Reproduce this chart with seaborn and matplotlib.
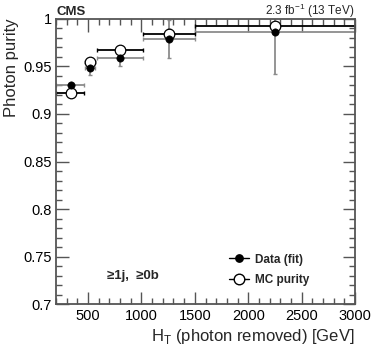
import numpy as np
import pandas as pd
import seaborn as sns
import matplotlib
matplotlib.use("Agg")
import matplotlib.pyplot as plt
from matplotlib.lines import Line2D
from matplotlib.ticker import MultipleLocator

# HT bins (GeV): point position and bin edges
ht_center = [338, 519, 798, 1257, 2250]
ht_low = [200, 475, 580, 1010, 1500]
ht_high = [460, 565, 1010, 1500, 3000]

# purity values
data_purity = [0.930, 0.9485, 0.959, 0.979, 0.986]
data_err = [0.002, 0.008, 0.009, 0.020, 0.044]
mc_purity = [0.922, 0.954, 0.967, 0.984, 0.9925]
mc_err = [0.002, 0.003, 0.003, 0.005, 0.004]

df = pd.DataFrame({"HT": ht_center, "data": data_purity, "mc": mc_purity})
xerr = [np.subtract(ht_center, ht_low), np.subtract(ht_high, ht_center)]

sns.set_style("ticks")
plt.rcParams['font.family'] = ['Liberation Sans', 'DejaVu Sans']
plt.rcParams['mathtext.fontset'] = 'custom'
plt.rcParams['mathtext.rm'] = 'Liberation Sans'

fig = plt.figure(figsize=(3.74, 3.59), dpi=100)
ax = fig.add_axes([0.150, 0.152, 0.799, 0.796])

# error bars (no markers)
ax.errorbar(df["HT"], df["data"], xerr=xerr, yerr=data_err, fmt="none",
            ecolor="#8c8c8c", elinewidth=1.3, capsize=1.5, capthick=1.0, zorder=2)
ax.errorbar(df["HT"], df["mc"], xerr=xerr, yerr=mc_err, fmt="none",
            ecolor="black", elinewidth=1.3, capsize=1.5, capthick=1.0, zorder=2)

# markers
sns.scatterplot(data=df, x="HT", y="mc", ax=ax, marker="o", s=58,
                facecolor="white", edgecolor="black", linewidth=0.9, zorder=3, legend=False)
sns.scatterplot(data=df, x="HT", y="data", ax=ax, marker="o", s=28,
                color="black", edgecolor="black", zorder=4, legend=False, clip_on=False)

ax.set_xlim(200, 3000)
ax.set_ylim(0.7, 1.0)
ax.xaxis.set_major_locator(MultipleLocator(500))
ax.xaxis.set_minor_locator(MultipleLocator(100))
ax.yaxis.set_major_locator(MultipleLocator(0.05))
ax.yaxis.set_minor_locator(MultipleLocator(0.01))
ax.set_yticks([0.7, 0.75, 0.8, 0.85, 0.9, 0.95, 1.0])
ax.set_yticklabels(["0.7", "0.75", "0.8", "0.85", "0.9", "0.95", "1"])
ax.set_xticks([500, 1000, 1500, 2000, 2500, 3000])
ax.set_xticklabels(["500", "1000", "1500", "2000", "2500", "3000"])

frame = "#555555"
for sp in ax.spines.values():
    sp.set_color(frame)
    sp.set_linewidth(1.3)
    sp.set_visible(True)
ax.tick_params(which="both", direction="in", top=True, right=True, colors=frame,
               labelcolor="black", labelsize=10.5, pad=3)
ax.tick_params(which="major", length=9, width=1.0)
ax.tick_params(which="minor", length=4.5, width=1.0)

ax.set_xlabel("H$_\\mathregular{T}$ (photon removed) [GeV]", fontsize=12, loc="right", labelpad=3)
ax.set_ylabel("Photon purity", fontsize=12, loc="top", labelpad=3)

fig.text(0.150, 0.958, "CMS", fontsize=9.5, fontweight="bold", ha="left", va="baseline")
fig.text(0.949, 0.958, "2.3 fb$^{-1}$ (13 TeV)", fontsize=8.5, ha="right", va="baseline")

ax.text(920, 0.730, "≥1j,  ≥0b", fontsize=9.5, fontweight="bold", ha="center", va="center")

handles = [
    Line2D([0], [0], color="black", lw=1.0, marker="o", markersize=5.3,
           markerfacecolor="black", markeredgecolor="black"),
    Line2D([0], [0], color="black", lw=1.0, marker="o", markersize=7.6,
           markerfacecolor="white", markeredgecolor="black"),
]
leg = ax.legend(handles, ["Data (fit)", "MC purity"], loc="upper left",
                bbox_to_anchor=(0.579, 0.178), frameon=False, handlelength=1.7,
                handletextpad=0.45, labelspacing=0.75, borderpad=0, borderaxespad=0,
                prop={"weight": "bold", "size": 8.5})

fig.savefig("out.png", dpi=100)
